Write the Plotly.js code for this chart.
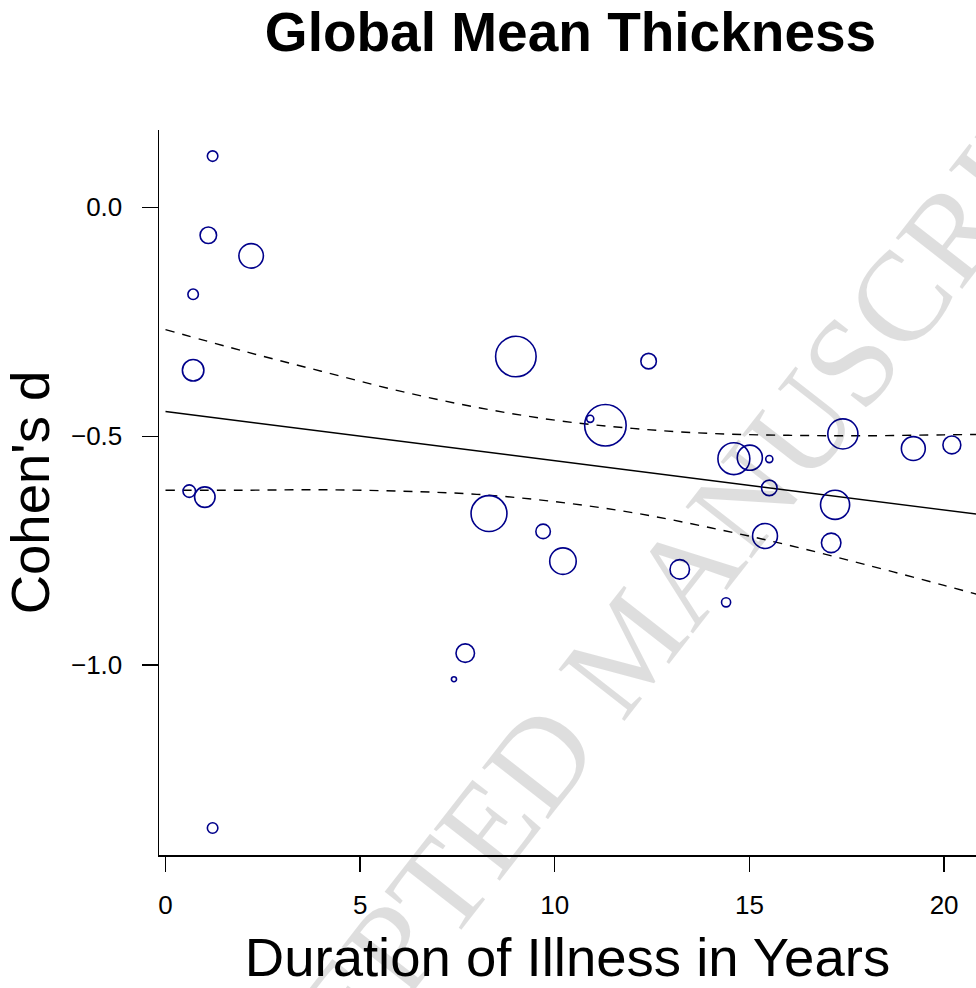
<!DOCTYPE html>
<html>
<head>
<meta charset="utf-8">
<script src="https://cdn.plot.ly/plotly-3.0.1.min.js"></script>
<style>
  html, body { margin: 0; padding: 0; background: #ffffff; }
  #chart { width: 976px; height: 988px; }
</style>
</head>
<body>
<div id="chart"></div>
<script>
// ---- Data ----
// Duration of illness (years) for each study
const duration = [1.21, 1.10, 2.20, 0.71, 0.71, 0.61, 1.01, 9.00, 12.41, 10.91,
                  11.30, 8.31, 9.70, 10.21, 7.70, 7.41, 1.21, 13.21, 14.40, 14.60,
                  15.01, 15.51, 15.51, 15.40, 17.40, 17.20, 17.10, 19.21, 20.20];
// Cohen's d for each study
const cohensD = [0.112, -0.061, -0.106, -0.190, -0.356, -0.620, -0.633, -0.326, -0.336, -0.462,
                 -0.476, -0.669, -0.708, -0.773, -0.974, -1.031, -1.356, -0.791, -0.863, -0.549,
                 -0.547, -0.550, -0.613, -0.718, -0.495, -0.650, -0.733, -0.527, -0.519];
// Relative study weight (bubble radius units)
const studyWeight = [6, 9, 13, 6, 11.5, 7, 11, 21, 8.5, 4.3,
                     21.5, 18.7, 8, 14, 10, 3.3, 6, 10.5, 5.3, 16.7,
                     13.3, 4.3, 8.5, 13.2, 15.8, 15.3, 10.5, 12.7, 9.7];

// Meta-regression fit line (read at both ends)
const fitX = [0, 21];
const fitY = [-0.446, -0.672];

// Confidence band
const ciX     = [0, 2, 4, 6, 8, 10, 12, 14, 16, 18, 20, 21];
const ciUpper = [-0.267, -0.314, -0.358, -0.401, -0.437, -0.465, -0.483, -0.494, -0.498, -0.499, -0.497, -0.496];
const ciLower = [-0.618, -0.618, -0.617, -0.620, -0.627, -0.643, -0.667, -0.700, -0.738, -0.781, -0.826, -0.849];

// Tick values
const xTicks = [0, 5, 10, 15, 20];
const yTicks = [0, -0.5, -1.0];

// ---- Chart ----
const lineStyle = {color: '#000000', width: 1.4};
const dashStyle = {color: '#000000', width: 1.4, dash: '9px,8px', shape: 'spline'};

const traces = [
  {x: ciX, y: ciUpper, mode: 'lines', line: dashStyle, hoverinfo: 'skip'},
  {x: ciX, y: ciLower, mode: 'lines', line: dashStyle, hoverinfo: 'skip'},
  {x: fitX, y: fitY, mode: 'lines', line: lineStyle, hoverinfo: 'skip'},
  {
    x: duration, y: cohensD, mode: 'markers',
    marker: {
      symbol: 'circle',
      size: studyWeight.map(w => 2 * w - 1.5),
      sizemode: 'diameter',
      opacity: 1,
      color: 'rgba(0,0,0,0)',
      line: {color: '#00008B', width: 1.6}
    }
  }
];

const tickFont = {family: 'Liberation Sans, Arial, sans-serif', size: 26, color: '#000000'};
const titleFont = {family: 'Liberation Sans, Arial, sans-serif', size: 54.5, color: '#000000'};

const layout = {
  width: 976, height: 988,
  margin: {l: 159, r: 0, t: 130, b: 133, pad: 0},
  paper_bgcolor: '#ffffff', plot_bgcolor: '#ffffff',
  showlegend: false,
  title: {
    text: '<b>Global Mean Thickness</b>',
    font: {family: 'Liberation Sans, Arial, sans-serif', size: 55, color: '#000000'},
    x: 0.5037, xref: 'paper', xanchor: 'center',
    y: 0.968, yref: 'container', yanchor: 'middle'
  },
  xaxis: {
    range: [-0.167, 20.82],
    tickvals: xTicks, ticktext: xTicks.map(String),
    showgrid: false, zeroline: false,
    showline: true, linecolor: '#000000', linewidth: 2,
    ticks: 'outside', ticklen: 15, tickwidth: 1.4, tickcolor: '#000000',
    ticklabelstandoff: 11,
    tickfont: tickFont,
    title: {text: 'Duration of Illness in Years', font: titleFont, standoff: 22},
    automargin: false, fixedrange: true
  },
  yaxis: {
    range: [-1.415, 0.169],
    tickvals: yTicks, tickformat: '.1f',
    showgrid: false, zeroline: false,
    showline: true, linecolor: '#000000', linewidth: 1.5,
    ticks: 'outside', ticklen: 16, tickwidth: 1.4, tickcolor: '#000000',
    ticklabelstandoff: 14,
    tickfont: tickFont,
    title: {text: "Cohen's d", font: titleFont, standoff: 10},
    automargin: false, fixedrange: true
  },
  annotations: [{
    text: 'ACCEPTED MANUSCRIPT',
    xref: 'paper', yref: 'paper',
    x: 0.575, y: 0.288, xanchor: 'center', yanchor: 'middle',
    showarrow: false, textangle: -52,
    font: {family: 'Liberation Serif, Times New Roman, serif', size: 128, color: 'rgba(0,0,0,0.13)'}
  }]
};

Plotly.newPlot('chart', traces, layout, {displayModeBar: false, staticPlot: true});
</script>
</body>
</html>
